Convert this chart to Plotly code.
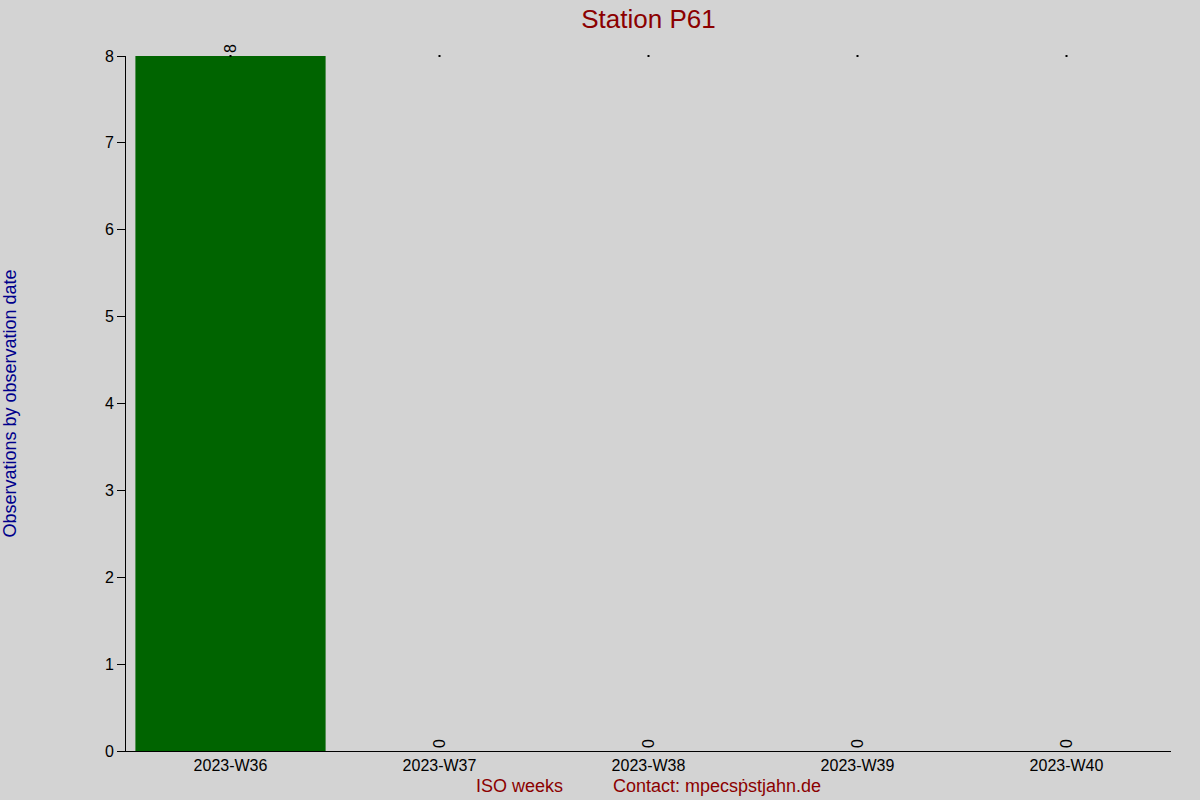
import plotly.graph_objects as go

weeks = ["2023-W36", "2023-W37", "2023-W38", "2023-W39", "2023-W40"]
counts = [8, 0, 0, 0, 0]
top_dots = [8, 8, 8, 8, 8]

station = "P61"
sp = "\u00a0" * 10

fig = go.Figure()

fig.add_trace(
    go.Bar(
        x=weeks,
        y=counts,
        marker=dict(color="#006400", line=dict(width=0)),
        text=[str(c) for c in counts],
        textposition="outside",
        textangle=-90,
        textfont=dict(family="Liberation Sans, Arial", size=16, color="black"),
        cliponaxis=False,
        showlegend=False,
    )
)

fig.add_trace(
    go.Scatter(
        x=weeks,
        y=top_dots,
        mode="markers",
        marker=dict(color="black", size=2, symbol="square"),
        cliponaxis=False,
        showlegend=False,
    )
)

fig.update_layout(
    width=1200,
    height=800,
    paper_bgcolor="#d3d3d3",
    plot_bgcolor="#d3d3d3",
    font=dict(family="Liberation Sans, Arial", size=16, color="black"),
    margin=dict(l=126, r=29, t=56, b=49),
    bargap=0.09,
    title=dict(
        text="Station " + station,
        x=0.5,
        xref="paper",
        y=0.977,
        yanchor="middle",
        font=dict(size=26, color="#8b0000"),
    ),
    xaxis=dict(
        title=dict(
            text="ISO weeks" + sp + "Contact: mpecs\u1e57stjahn.de",
            font=dict(size=18, color="#8b0000"),
            standoff=6,
        ),
        automargin=False,
        showline=True,
        linecolor="black",
        linewidth=1,
        ticks="",
        showgrid=False,
        zeroline=False,
        range=[-0.5, 4.5],
    ),
    yaxis=dict(
        title=dict(
            text="Observations by observation date",
            font=dict(size=18, color="#00008b"),
            standoff=84,
        ),
        automargin=False,
        showline=True,
        linecolor="black",
        linewidth=1,
        ticks="outside",
        ticklen=8,
        tickcolor="black",
        showgrid=False,
        zeroline=False,
        range=[0, 8],
        dtick=1,
    ),
)

# drop the default page margin so the figure sits at the window corner
fig.write_html(
    "out.html",
    config={"displayModeBar": False},
    post_script="document.body.style.margin='0';",
)
